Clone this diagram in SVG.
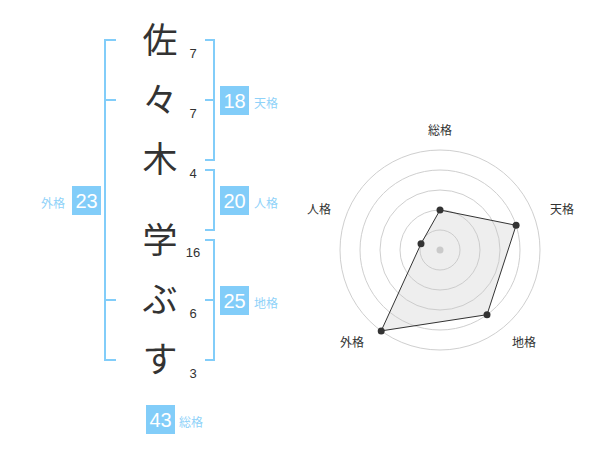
<svg xmlns="http://www.w3.org/2000/svg" width="600" height="470" viewBox="0 0 600 470">
<style>
.ch{font-family:"Noto Sans CJK JP","Noto Sans CJK SC",sans-serif;font-size:35px;fill:#333;text-anchor:middle}
.num{font-family:"Liberation Sans","Noto Sans CJK JP",sans-serif;font-size:13px;fill:#333;text-anchor:middle}
.box{fill:#82cdf9}
.bn{font-family:"Liberation Sans",Arial,sans-serif;font-size:20px;fill:#fff;text-anchor:middle}
.bl{font-family:"Noto Sans CJK JP","Noto Sans CJK SC",sans-serif;font-size:12px;fill:#8fd2f9}
.br{fill:none;stroke:#82cdf9;stroke-width:2}
.ring{fill:none;stroke:#cfcfcf;stroke-width:1}
.rl{font-family:"Noto Sans CJK JP","Noto Sans CJK SC",sans-serif;font-size:12px;fill:#333;text-anchor:middle}
.pt{fill:#333}
</style>
<rect width="600" height="470" fill="#fff"/>
<g id="connectors">
<path class="br" d="M116,40H105V360H116M105,100H116M105,300H116"/>
<path class="br" d="M205,40H214V160H205M205,100H214"/>
<path class="br" d="M205,170H214V230H205"/>
<path class="br" d="M205,240H214V360H205M205,300H214"/>
</g>
<g id="chars">
<text class="ch" x="160" y="53">佐</text>
<text class="ch" x="160" y="113">々</text>
<text class="ch" x="160" y="172">木</text>
<text class="ch" x="160" y="253">学</text>
<text class="ch" x="160" y="312">ぶ</text>
<text class="ch" x="160" y="372">す</text>
</g>
<g id="strokes">
<text class="num" x="193" y="58">7</text>
<text class="num" x="193" y="118">7</text>
<text class="num" x="193" y="178">4</text>
<text class="num" x="193" y="257">16</text>
<text class="num" x="193" y="318">6</text>
<text class="num" x="193" y="378">3</text>
</g>
<g id="tenkaku"><rect class="box" x="220" y="86" width="29" height="29"/><text class="bn" x="234.5" y="108">18</text><text class="bl" x="254" y="108">天格</text></g>
<g id="jinkaku"><rect class="box" x="220" y="186" width="29" height="29"/><text class="bn" x="234.5" y="208">20</text><text class="bl" x="254" y="208">人格</text></g>
<g id="chikaku"><rect class="box" x="220" y="286" width="29" height="29"/><text class="bn" x="234.5" y="308">25</text><text class="bl" x="254" y="308">地格</text></g>
<g id="gaikaku"><rect class="box" x="72" y="186" width="29" height="29"/><text class="bn" x="86.5" y="208">23</text><text class="bl" x="41" y="208">外格</text></g>
<g id="soukaku"><rect class="box" x="146" y="405" width="29" height="29"/><text class="bn" x="160.5" y="427">43</text><text class="bl" x="179" y="427">総格</text></g>
<g id="radar">
<circle class="ring" cx="440" cy="250" r="20"/>
<circle class="ring" cx="440" cy="250" r="40"/>
<circle class="ring" cx="440" cy="250" r="60"/>
<circle class="ring" cx="440" cy="250" r="80"/>
<circle class="ring" cx="440" cy="250" r="100"/>
<circle cx="440" cy="250" r="3.5" fill="#ccc"/>
<polygon points="440,210 516.1,225.3 487,314.7 381.2,330.9 421,243.8" fill="rgba(200,200,200,0.3)" stroke="#333" stroke-width="1"/>
<circle class="pt" cx="440" cy="210" r="3.5"/>
<circle class="pt" cx="516.1" cy="225.3" r="3.5"/>
<circle class="pt" cx="487" cy="314.7" r="3.5"/>
<circle class="pt" cx="381.2" cy="330.9" r="3.5"/>
<circle class="pt" cx="421" cy="243.8" r="3.5"/>
<text class="rl" x="440" y="135">総格</text>
<text class="rl" x="562" y="214">天格</text>
<text class="rl" x="524" y="347">地格</text>
<text class="rl" x="352" y="347">外格</text>
<text class="rl" x="319" y="214">人格</text>
</g>
</svg>
